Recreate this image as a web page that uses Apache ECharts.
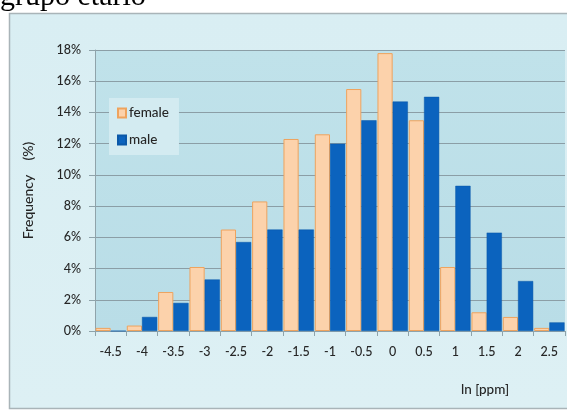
<!DOCTYPE html>
<html>
<head>
<meta charset="utf-8">
<script src="https://cdn.jsdelivr.net/npm/echarts@6/dist/echarts.min.js"></script>
<style>
html,body{margin:0;padding:0;background:#fff;}
#c{width:567px;height:410px;}
</style>
</head>
<body>
<div id="c"></div>
<script>
var categories = ['-4.5','-4','-3.5','-3','-2.5','-2','-1.5','-1','-0.5','0','0.5','1','1.5','2','2.5'];
var female = [0.2, 0.35, 2.5, 4.1, 6.5, 8.3, 12.3, 12.6, 15.5, 17.8, 13.5, 4.1, 1.2, 0.9, 0.2];
var male   = [0, 0.9, 1.8, 3.3, 5.7, 6.5, 6.5, 12.0, 13.5, 14.7, 15.0, 9.3, 6.3, 3.2, 0.55];
var yTicks = {min: 0, max: 18, interval: 2};

var chart = echarts.init(document.getElementById('c'), null, {renderer: 'canvas'});
var fontFam = 'Lato, "Open Sans", sans-serif';
var txtCol = '#262626';
chart.setOption({
  animation: false,
  backgroundColor: '#ffffff',
  graphic: [
    {type: 'rect', z: -10, shape: {x: 9.5, y: 13.5, width: 570, height: 395},
     style: {fill: new echarts.graphic.LinearGradient(0, 0, 0, 1, [
        {offset: 0, color: '#d9eef3'}, {offset: 1, color: '#ddf0f4'}]),
        stroke: '#a9b4b8', lineWidth: 1.5}},
    {type: 'text', z: 10, style: {text: 'grupo etário', x: 0, y: -3,
        font: '30px "Liberation Serif", "DejaVu Serif", serif', fill: '#000',
        verticalAlign: 'middle', align: 'left'}},
    {type: 'text', z: 10, style: {text: 'ln [ppm]', x: 485, y: 390,
        font: '500 13.5px ' + fontFam, fill: txtCol, align: 'center', verticalAlign: 'middle'}}
  ],
  grid: {
    left: 95, right: 2, top: 50, bottom: 79,
    show: true, borderWidth: 0,
    backgroundColor: new echarts.graphic.LinearGradient(0, 0, 0, 1, [
      {offset: 0, color: '#c0e2ea'}, {offset: 1, color: '#b9dde7'}])
  },
  legend: {
    orient: 'vertical', left: 109, top: 98,
    padding: [8, 10, 8, 8],
    backgroundColor: '#d3ebf1',
    itemWidth: 8, itemHeight: 9, itemGap: 13,
    icon: 'rect',
    textStyle: {fontFamily: fontFam, fontSize: 13.5, fontWeight: 500, color: txtCol, padding: [0, 0, 0, -2]},
    data: ['female', 'male']
  },
  xAxis: {
    type: 'category', data: categories,
    boundaryGap: true,
    axisLine: {lineStyle: {color: '#8fa3aa', width: 1}},
    axisTick: {show: true, alignWithLabel: false, length: 5, lineStyle: {color: '#8fa3aa'}},
    axisLabel: {fontFamily: fontFam, fontSize: 12.5, fontWeight: 500, color: txtCol, margin: 14, interval: 0}
  },
  yAxis: {
    type: 'value', min: yTicks.min, max: yTicks.max, interval: yTicks.interval,
    name: 'Frequency    (%)', nameLocation: 'middle', nameGap: 60, nameRotate: 90,
    nameTextStyle: {fontFamily: fontFam, fontSize: 14, fontWeight: 500, color: txtCol},
    axisLine: {show: true, lineStyle: {color: '#8fa3aa', width: 1}},
    axisTick: {show: true, length: 6, lineStyle: {color: '#8fa3aa'}},
    axisLabel: {fontFamily: fontFam, fontSize: 12.5, fontWeight: 500, color: txtCol, margin: 14, formatter: '{value}%'},
    splitLine: {lineStyle: {color: '#8b9ea6', width: 1}}
  },
  series: [
    {name: 'female', type: 'bar', data: female, barGap: '0%', barCategoryGap: '3%',
     itemStyle: {color: '#fcd2ab', borderColor: '#eea35e', borderWidth: 1}},
    {name: 'male', type: 'bar', data: male, barGap: '0%', barCategoryGap: '3%',
     itemStyle: {color: '#0b63be', borderColor: '#0a58a8', borderWidth: 0.5}}
  ]
});
</script>
</body>
</html>
